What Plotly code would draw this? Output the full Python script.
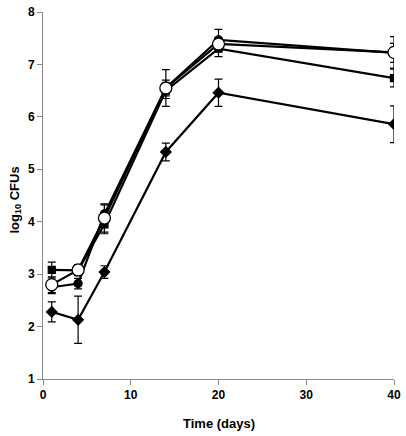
import plotly.graph_objects as go

days = [1, 4, 7, 14, 20, 40]

square_vals = [3.08, 3.07, 3.95, 6.50, 7.30, 6.74]
square_err = [0.15, 0.10, 0.18, 0.15, 0.15, 0.17]

fcircle_vals = [2.75, 2.82, 4.15, 6.55, 7.47, 7.22]
fcircle_err = [0.12, 0.10, 0.17, 0.15, 0.20, 0.18]

ocircle_vals = [2.80, 3.08, 4.07, 6.55, 7.39, 7.23]
ocircle_err = [0.15, 0.10, 0.27, 0.35, 0.12, 0.30]

diamond_vals = [2.28, 2.13, 3.04, 5.33, 6.46, 5.86]
diamond_err = [0.19, 0.45, 0.12, 0.17, 0.26, 0.35]

x_ticks = [0, 10, 20, 30, 40]
y_ticks = [1, 2, 3, 4, 5, 6, 7, 8]

err_style = dict(type="data", thickness=1.2, width=4, color="black")

fig = go.Figure()

def add(vals, errs, symbol, size, fillcolor):
    fig.add_trace(go.Scatter(
        x=days, y=vals, mode="lines+markers",
        line=dict(color="black", width=2.2),
        marker=dict(symbol=symbol, size=size, color=fillcolor,
                    line=dict(color="black", width=1.3)),
        error_y=dict(array=errs, **err_style),
        showlegend=False,
    ))

add(diamond_vals, diamond_err, "diamond", 8, "black")
add(square_vals, square_err, "square", 7, "black")
add(fcircle_vals, fcircle_err, "circle", 8, "black")
add(ocircle_vals, ocircle_err, "circle", 12, "white")

tickfont = dict(family="Liberation Sans, Arial", size=12, color="black", weight="bold")

fig.update_layout(
    width=406, height=436,
    margin=dict(l=43, r=12, t=12, b=57),
    paper_bgcolor="white", plot_bgcolor="white",
    font=dict(family="Liberation Sans, Arial", size=12, color="black"),
    xaxis=dict(
        range=[0, 40], tickvals=x_ticks, showgrid=False, zeroline=False,
        showline=True, linecolor="#888888", linewidth=1,
        ticks="outside", ticklen=5, tickcolor="#888888",
        tickfont=tickfont, automargin=False,
    ),
    yaxis=dict(
        range=[1, 8], tickvals=y_ticks, showgrid=False, zeroline=False,
        showline=True, linecolor="#888888", linewidth=1,
        ticks="outside", ticklen=5, tickcolor="#888888",
        tickfont=tickfont, automargin=False,
    ),
    annotations=[
        dict(text="<b>Time (days)</b>", xref="paper", yref="paper",
             x=0.5, y=0, xanchor="center", yanchor="middle", yshift=-44,
             showarrow=False, font=dict(family="Liberation Sans, Arial", size=13, color="black")),
        dict(text="<b>log<sub>10</sub> CFUs</b>", xref="paper", yref="paper",
             x=0, y=0.5, xanchor="center", yanchor="middle", xshift=-28, yshift=-5,
             textangle=-90, showarrow=False,
             font=dict(family="Liberation Sans, Arial", size=13, color="black")),
    ],
)

fig.write_html("out.html", config={"displayModeBar": False},
               post_script="document.body.style.margin='0px';")
